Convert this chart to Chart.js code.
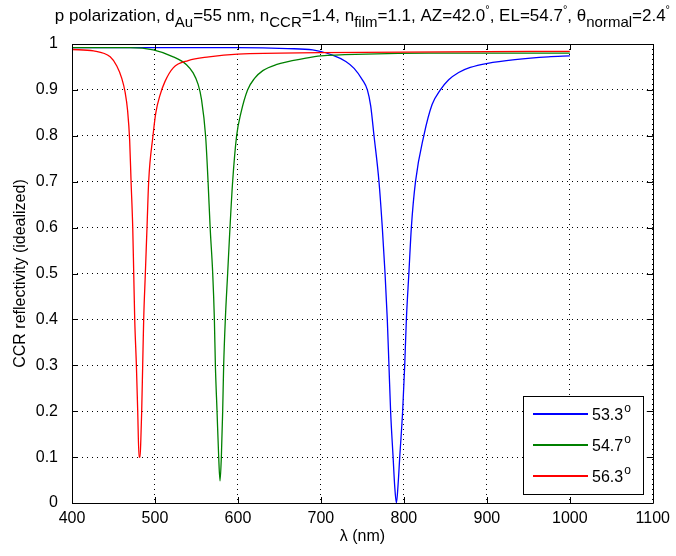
<!DOCTYPE html>
<html>
<head>
<meta charset="utf-8">
<script src="https://cdn.jsdelivr.net/npm/chart.js@4"></script>
<style>
  body { margin: 0; background: #fff; }
</style>
</head>
<body>
<canvas id="ccr-chart" width="676" height="556"></canvas>
<script>
// wavelengths (nm) and reflectivity for each incidence angle
var lambdaBlue = [400, 600, 660, 690, 714, 730, 740, 750, 756, 760, 764, 770, 774, 777.3, 780, 782, 784, 787, 789, 791, 793, 795, 798.5, 801, 803, 806, 809, 814, 824, 834, 844, 854, 866, 880, 901, 934, 974, 1000];
var reflBlue = [0.992, 0.992, 0.99, 0.987, 0.976, 0.962, 0.947, 0.922, 0.9, 0.865, 0.8, 0.7, 0.6, 0.5, 0.4, 0.3, 0.2, 0.1, 0.035, 0.0, 0.04, 0.1, 0.2, 0.3, 0.4, 0.5, 0.6, 0.7, 0.8, 0.868, 0.9, 0.922, 0.938, 0.949, 0.958, 0.966, 0.972, 0.974];

var lambdaGreen = [400, 470, 498, 522, 538, 546, 552, 556, 561, 564, 566.5, 569.6, 571.6, 572.8, 574.8, 576.8, 578.4, 580, 581.6, 582.8, 584.8, 587.6, 590.4, 593.6, 598.4, 603.6, 611.6, 620, 630, 646, 682, 700, 754, 830, 1000];
var reflGreen = [0.992, 0.992, 0.987, 0.972, 0.955, 0.937, 0.912, 0.88, 0.8, 0.7, 0.6, 0.5, 0.4, 0.3, 0.2, 0.1, 0.048, 0.1, 0.2, 0.3, 0.4, 0.5, 0.6, 0.7, 0.8, 0.85, 0.9, 0.925, 0.942, 0.955, 0.969, 0.974, 0.978, 0.98, 0.98];

var lambdaRed = [400, 426, 446, 454, 460, 464, 467, 469.5, 471.2, 473.2, 474.4, 475.6, 477.6, 479.2, 480.8, 482, 483, 484, 485.2, 486.4, 488.4, 490.4, 492.4, 497.6, 501, 506, 512, 522, 540, 565, 600, 700, 850, 1000];
var reflRed = [0.988, 0.985, 0.972, 0.952, 0.925, 0.895, 0.855, 0.79, 0.7, 0.6, 0.5, 0.4, 0.3, 0.2, 0.1, 0.1, 0.14, 0.2, 0.3, 0.4, 0.5, 0.6, 0.7, 0.8, 0.85, 0.888, 0.918, 0.948, 0.964, 0.972, 0.978, 0.981, 0.983, 0.984];

var angleLabels = ['53.3', '54.7', '56.3'];
var lineColors = ['#0000ff', '#008000', '#ff0000'];
var xTickValues = [400, 500, 600, 700, 800, 900, 1000, 1100];
var yTickValues = [0, 0.1, 0.2, 0.3, 0.4, 0.5, 0.6, 0.7, 0.8, 0.9, 1];

var FONT = 'Liberation Sans, Arial, sans-serif';

function toPoints(xs, ys) {
  return xs.map(function (x, i) { return { x: x, y: ys[i] }; });
}

// title with sub/superscripts, text pieces
var titleParts = [
  { t: 'p polarization, d' }, { t: 'Au', sub: true },
  { t: '=55 nm, n' }, { t: 'CCR', sub: true },
  { t: '=1.4, n' }, { t: 'film', sub: true },
  { t: '=1.1, AZ=42.0' }, { t: '\u00b0', sup: true },
  { t: ', EL=54.7' }, { t: '\u00b0', sup: true },
  { t: ', \u03b8' }, { t: 'normal', sub: true },
  { t: '=2.4' }, { t: '\u00b0', sup: true }
];

function partFont(p) {
  if (p.sub) return '15px ' + FONT;
  if (p.sup) return '11px ' + FONT;
  return '17px ' + FONT;
}

var matlabFrame = {
  id: 'matlabFrame',
  afterDraw: function (chart) {
    var ctx = chart.ctx;
    var a = chart.chartArea;
    var xs = chart.scales.x, ys = chart.scales.y;
    ctx.save();
    ctx.strokeStyle = '#000';
    ctx.lineWidth = 1;
    ctx.beginPath();
    ctx.rect(Math.round(a.left) + 0.5, Math.round(a.top) + 0.5, Math.round(a.right - a.left), Math.round(a.bottom - a.top));
    xTickValues.forEach(function (v) {
      var px = Math.round(xs.getPixelForValue(v)) + 0.5;
      ctx.moveTo(px, a.bottom); ctx.lineTo(px, a.bottom - 6);
      ctx.moveTo(px, a.top); ctx.lineTo(px, a.top + 6);
    });
    yTickValues.forEach(function (v) {
      var py = Math.round(ys.getPixelForValue(v)) + 0.5;
      ctx.moveTo(a.left, py); ctx.lineTo(a.left + 6, py);
      ctx.moveTo(a.right, py); ctx.lineTo(a.right - 6, py);
    });
    ctx.stroke();

    // title
    ctx.fillStyle = '#000';
    ctx.textBaseline = 'alphabetic';
    ctx.textAlign = 'left';
    var total = 0;
    titleParts.forEach(function (p) { ctx.font = partFont(p); p.w = ctx.measureText(p.t).width; total += p.w; });
    var cx = (a.left + a.right) / 2 - total / 2;
    var base = 21;
    titleParts.forEach(function (p) {
      ctx.font = partFont(p);
      var dy = p.sub ? 6 : (p.sup ? -8 : 0);
      ctx.fillText(p.t, cx, base + dy);
      cx += p.w;
    });

    // legend box
    var bx = 523, by = 396, bw = 120, bh = 98;
    ctx.fillStyle = '#fff';
    ctx.fillRect(bx, by, bw, bh);
    ctx.strokeStyle = '#000';
    ctx.strokeRect(bx + 0.5, by + 0.5, bw, bh);
    var rows = [413, 444, 475];
    angleLabels.forEach(function (lab, i) {
      ctx.fillStyle = lineColors[i];
      ctx.fillRect(533, rows[i], 55, 2);
      ctx.fillStyle = '#000';
      ctx.font = '16px ' + FONT;
      ctx.fillText(lab, 592, rows[i] + 7);
      var w = ctx.measureText(lab).width;
      ctx.font = '12px ' + FONT;
      ctx.fillText('o', 592 + w + 1, rows[i] - 1);
    });
    ctx.restore();
  }
};

new Chart(document.getElementById('ccr-chart'), {
  type: 'line',
  data: {
    datasets: [{
      label: angleLabels[0],
      data: toPoints(lambdaBlue, reflBlue),
      borderColor: lineColors[0],
      borderWidth: 1.3,
      pointRadius: 0,
      cubicInterpolationMode: 'monotone',
      order: 3
    }, {
      label: angleLabels[1],
      data: toPoints(lambdaGreen, reflGreen),
      borderColor: lineColors[1],
      borderWidth: 1.3,
      pointRadius: 0,
      cubicInterpolationMode: 'monotone',
      order: 2
    }, {
      label: angleLabels[2],
      data: toPoints(lambdaRed, reflRed),
      borderColor: lineColors[2],
      borderWidth: 1.3,
      pointRadius: 0,
      cubicInterpolationMode: 'monotone',
      order: 1
    }]
  },
  options: {
    responsive: false,
    animation: false,
    devicePixelRatio: 1,
    layout: { padding: { left: 0, top: 44, right: 20, bottom: 0 } },
    plugins: {
      legend: { display: false },
      tooltip: { enabled: false }
    },
    scales: {
      x: {
        type: 'linear',
        min: 400,
        max: 1100,
        afterFit: function (scale) { scale.height = 53; },
        grid: { color: '#000', lineWidth: 1, drawTicks: false },
        border: { display: false, dash: [1, 4] },
        ticks: {
          stepSize: 100,
          padding: 6,
          color: '#000',
          font: { size: 16, family: FONT },
          callback: function (v) { return String(v); }
        },
        title: {
          display: true,
          text: '\u03bb (nm)',
          color: '#000',
          font: { size: 16, family: FONT },
          padding: { top: 0, bottom: 10 }
        }
      },
      y: {
        min: 0,
        max: 1,
        afterFit: function (scale) { scale.width = 72; },
        grid: { color: '#000', lineWidth: 1, drawTicks: false },
        border: { display: false, dash: [1, 4] },
        ticks: {
          stepSize: 0.1,
          padding: 14,
          color: '#000',
          font: { size: 16, family: FONT },
          callback: function (v) { return +v.toFixed(1) + ''; }
        },
        title: {
          display: true,
          text: 'CCR reflectivity (idealized)',
          color: '#000',
          font: { size: 16, family: FONT },
          padding: { top: 11, bottom: 0 }
        }
      }
    }
  },
  plugins: [matlabFrame]
});
</script>
</body>
</html>
